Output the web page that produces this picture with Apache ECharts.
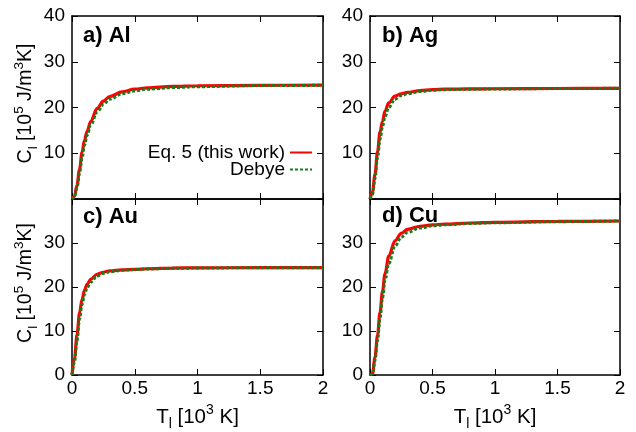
<!DOCTYPE html>
<html>
<head>
<meta charset="utf-8">
<script src="https://cdn.jsdelivr.net/npm/echarts@6/dist/echarts.min.js"></script>
<style>html,body{margin:0;padding:0;background:#fff;}#c{width:636px;height:432px;}</style>
</head>
<body>
<div id="c"></div>
<script>
// Temperature grid [10^3 K]
const T = [0, 0.02, 0.04, 0.06, 0.08, 0.10, 0.12, 0.15, 0.20, 0.25, 0.30, 0.40, 0.50, 0.60, 0.80, 1.00, 1.50, 2.00];
// Heat capacities [10^5 J/m^3K]
const AL_EQ5   = [0, 0.6, 3.0, 6.5, 10.2, 12.9, 14.8, 17.0, 19.8, 21.4, 22.4, 23.4, 24.0, 24.3, 24.6, 24.75, 24.85, 24.9];
const AL_DEBYE = [0, 0.4, 2.5, 5.6, 9.0, 11.8, 13.9, 16.2, 19.0, 20.7, 21.8, 23.0, 23.6, 24.0, 24.35, 24.55, 24.8, 24.85];
const AG_EQ5   = [0, 1.5, 5.4, 10.3, 14.6, 17.0, 19.2, 21.0, 22.5, 23.0, 23.3, 23.7, 23.9, 24.0, 24.05, 24.1, 24.15, 24.2];
const AG_DEBYE = [0, 1.0, 4.5, 9.0, 13.0, 15.8, 18.0, 20.0, 21.8, 22.6, 23.0, 23.5, 23.75, 23.9, 24.0, 24.05, 24.15, 24.2];
const AU_EQ5   = [0, 3.9, 9.1, 14.1, 17.2, 19.3, 20.6, 21.8, 22.9, 23.35, 23.65, 23.9, 24.0, 24.15, 24.3, 24.35, 24.4, 24.4];
const AU_DEBYE = [0, 3.0, 7.8, 12.8, 16.0, 18.3, 19.8, 21.1, 22.5, 23.1, 23.45, 23.8, 23.95, 24.1, 24.25, 24.3, 24.4, 24.4];
const CU_EQ5   = [0, 0.3, 4.0, 9.0, 14.2, 19.0, 23.0, 27.0, 30.5, 32.2, 33.1, 33.8, 34.1, 34.3, 34.55, 34.7, 34.9, 35.0];
const CU_DEBYE = [0, 0.2, 3.3, 7.8, 12.8, 17.5, 21.5, 25.3, 29.3, 31.3, 32.4, 33.4, 33.9, 34.15, 34.45, 34.6, 34.85, 35.0];

const PANEL_LABELS = ['a) Al', 'b) Ag', 'c) Au', 'd) Cu'];
const SERIES_NAMES = ['Eq. 5 (this work)', 'Debye'];
const PANELS = [[AL_EQ5, AL_DEBYE], [AG_EQ5, AG_DEBYE], [AU_EQ5, AU_DEBYE], [CU_EQ5, CU_DEBYE]];

const FONT = 'Liberation Sans';
const FS = 19;
const grids = [
  {left: 72, top: 16, width: 251, height: 183},
  {left: 370, top: 16, width: 250, height: 183},
  {left: 72, top: 199, width: 251, height: 183},
  {left: 370, top: 199, width: 250, height: 183}
];
const lineW = 1.5;
function mkRich(fs, ss) {
  return {
    sub: {fontSize: ss, verticalAlign: 'bottom', fontFamily: FONT, color: '#000', lineHeight: 28},
    sup: {fontSize: ss, verticalAlign: 'top', fontFamily: FONT, color: '#000', lineHeight: 28},
    n: {fontSize: fs, fontFamily: FONT, color: '#000', lineHeight: 28}
  };
}

const xAxis = [], yAxis = [], series = [];
grids.forEach((g, i) => {
  const top = i < 2, left = i % 2 === 0;
  const baseTick = {show: true, inside: true, length: 6, lineStyle: {color: '#000', width: 1}};
  const baseLine = {show: true, onZero: false, lineStyle: {color: '#000', width: lineW}};
  xAxis.push({
    gridIndex: i, type: 'value', min: 0, max: 2, interval: 0.5, position: 'bottom',
    axisLine: baseLine, axisTick: baseTick, splitLine: {show: false},
    axisLabel: {show: !top, color: '#000', fontSize: FS, fontFamily: FONT, margin: 4},
    name: top ? '' : '{n|T}{sub|l}{n| [10}{sup|3}{n| K]}',
    nameLocation: 'middle', nameGap: 28,
    nameTextStyle: {rich: mkRich(20.5, 14), fontSize: 20.5, fontFamily: FONT, color: '#000'}
  });
  xAxis.push({
    gridIndex: i, type: 'value', min: 0, max: 2, interval: 0.5, position: 'top',
    axisLine: baseLine, axisTick: baseTick, splitLine: {show: false}, axisLabel: {show: false}
  });
  yAxis.push({
    gridIndex: i, type: 'value', min: 0, max: 40, interval: 10, position: 'left',
    axisLine: baseLine, axisTick: baseTick, splitLine: {show: false},
    axisLabel: {color: '#000', fontSize: FS, fontFamily: FONT, margin: 7,
      formatter: v => (top && v === 0) || (!top && v === 40) ? '' : String(v)},
    name: left ? '{n|C}{sub|l}{n| [10}{sup|5}{n| J/m}{sup|3}{n|K]}' : '',
    nameLocation: 'middle', nameGap: 32, nameRotate: 90,
    nameTextStyle: {rich: mkRich(19.5, 13.5), fontSize: 19.5, fontFamily: FONT, color: '#000', padding: [0, 0, 0, 8]}
  });
  yAxis.push({
    gridIndex: i, type: 'value', min: 0, max: 40, interval: 10, position: 'right',
    axisLine: baseLine, axisTick: baseTick, splitLine: {show: false}, axisLabel: {show: false}
  });
  const [eq5, deb] = PANELS[i];
  series.push({
    name: SERIES_NAMES[0], type: 'line', xAxisIndex: 2 * i, yAxisIndex: 2 * i,
    data: T.map((t, k) => [t, eq5[k]]), showSymbol: false, symbol: 'none',
    smooth: 0.35, smoothMonotone: 'x',
    lineStyle: {color: '#ff0000', width: 3.2}, itemStyle: {color: '#ff0000'}, z: 2
  });
  series.push({
    name: SERIES_NAMES[1], type: 'line', xAxisIndex: 2 * i, yAxisIndex: 2 * i,
    data: T.map((t, k) => [t, deb[k]]), showSymbol: false, symbol: 'none',
    smooth: 0.35, smoothMonotone: 'x',
    lineStyle: {color: '#1b7a1b', width: 3, type: [3, 2]}, itemStyle: {color: '#1b7a1b'}, z: 3
  });
});

const titles = [
  {text: PANEL_LABELS[0], left: 83, top: 25},
  {text: PANEL_LABELS[1], left: 382, top: 25},
  {text: PANEL_LABELS[2], left: 83, top: 206},
  {text: PANEL_LABELS[3], left: 382, top: 205}
].map(t => Object.assign(t, {padding: 0, textStyle: {fontFamily: FONT, fontWeight: 'bold', fontSize: 22, color: '#000'}}));

const legendText = {fontFamily: FONT, fontSize: FS, color: '#000'};
const legendBase = {right: 636 - 313, padding: 0, itemWidth: 22, itemHeight: 3, align: 'right',
  textStyle: legendText, selectedMode: false, itemStyle: {opacity: 0}};
const option = {
  animation: false,
  backgroundColor: '#fff',
  title: titles,
  grid: grids,
  xAxis, yAxis, series,
  legend: [
    Object.assign({data: [SERIES_NAMES[0]], top: 143}, legendBase),
    Object.assign({data: [SERIES_NAMES[1]], top: 160}, legendBase)
  ]
};
const chart = echarts.init(document.getElementById('c'), null, {renderer: 'canvas'});
chart.setOption(option);
</script>
</body>
</html>
